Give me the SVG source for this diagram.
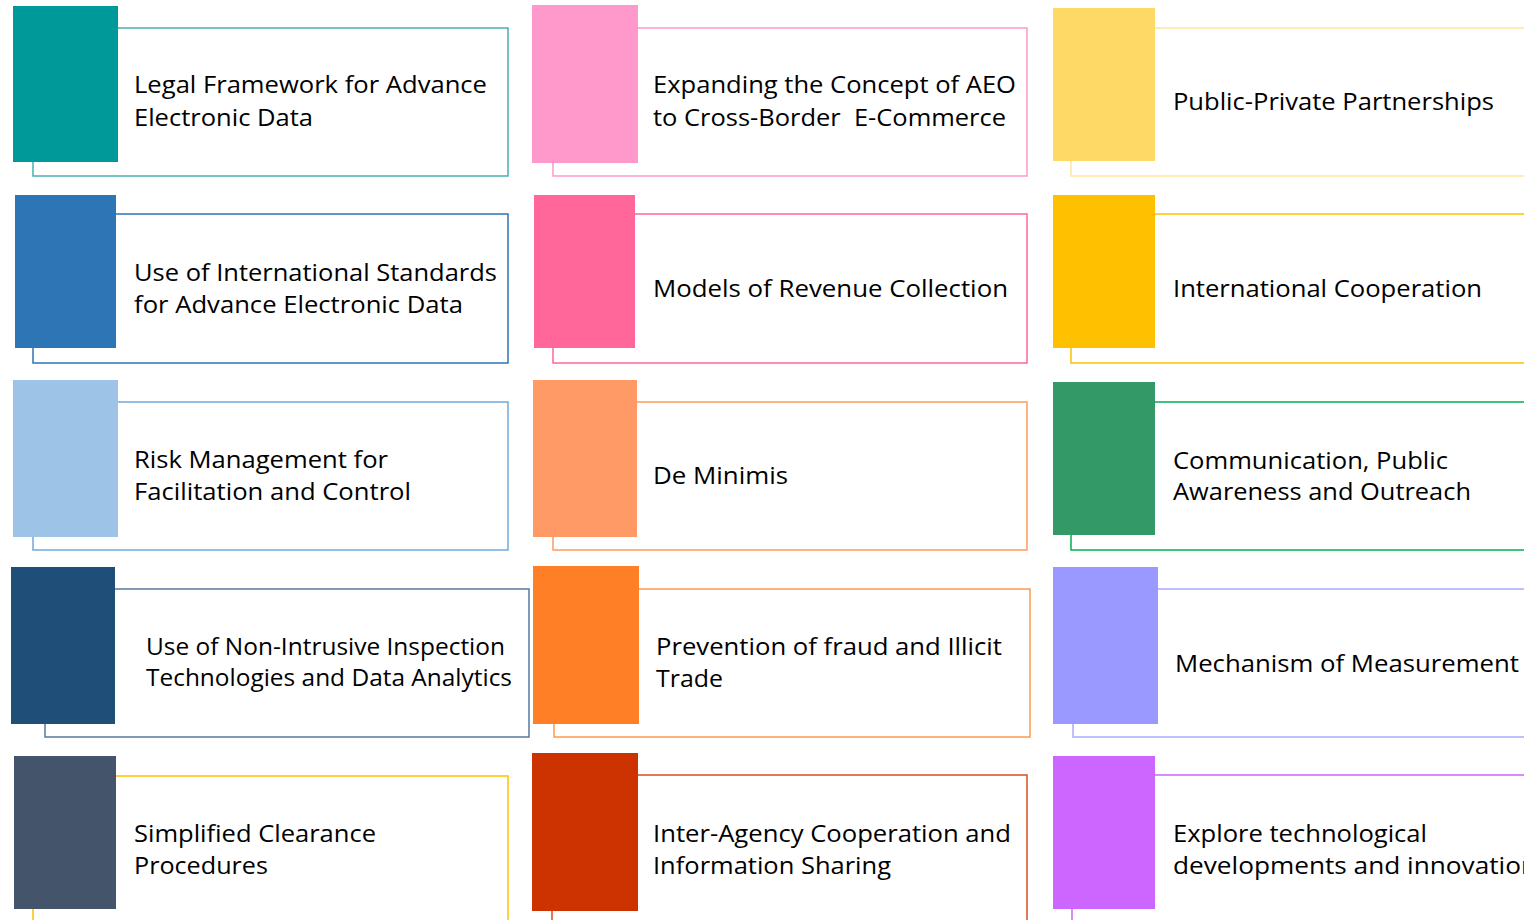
<svg xmlns="http://www.w3.org/2000/svg" width="1524" height="920" viewBox="0 0 1524 920">
<style>
.o{fill:#ffffff;stroke-width:1.5}
.t{font-family:"Open Sans","Noto Sans","Liberation Sans",sans-serif;font-size:24px;fill:#000000}
</style>
<rect x="0" y="0" width="1524" height="920" fill="#ffffff"/>
<g id="connectors"></g>

<g id="n1">
<rect class="o" x="33" y="28" width="475" height="148" stroke="#45b3b3"/>
<rect x="13" y="6" width="105" height="156" fill="#009999"/>
<text class="t" x="134" y="93" textLength="353" lengthAdjust="spacingAndGlyphs">Legal Framework for Advance</text>
<text class="t" x="134" y="126" textLength="179" lengthAdjust="spacingAndGlyphs">Electronic Data</text>
</g>
<g id="n2">
<rect class="o" x="33" y="214" width="475" height="149" stroke="#2e75b6"/>
<rect x="15" y="195" width="101" height="153" fill="#2e75b6"/>
<text class="t" x="134" y="281" textLength="363" lengthAdjust="spacingAndGlyphs">Use of International Standards</text>
<text class="t" x="134" y="313" textLength="329" lengthAdjust="spacingAndGlyphs">for Advance Electronic Data</text>
</g>
<g id="n3">
<rect class="o" x="33" y="402" width="475" height="148" stroke="#6fa8dc"/>
<rect x="13" y="380" width="105" height="157" fill="#9dc3e6"/>
<text class="t" x="134" y="468" textLength="254" lengthAdjust="spacingAndGlyphs">Risk Management for</text>
<text class="t" x="134" y="500" textLength="277" lengthAdjust="spacingAndGlyphs">Facilitation and Control</text>
</g>
<g id="n4">
<rect class="o" x="45" y="589" width="484" height="148" stroke="#55799c"/>
<rect x="11" y="567" width="104" height="157" fill="#1f4e79"/>
<text class="t" x="146" y="655" textLength="359" lengthAdjust="spacingAndGlyphs">Use of Non-Intrusive Inspection</text>
<text class="t" x="146" y="686" textLength="366" lengthAdjust="spacingAndGlyphs">Technologies and Data Analytics</text>
</g>
<g id="n5">
<rect class="o" x="33" y="776" width="475" height="170" stroke="#ffc000"/>
<rect x="14" y="756" width="102" height="153" fill="#44546a"/>
<text class="t" x="134" y="842" textLength="242" lengthAdjust="spacingAndGlyphs">Simplified Clearance</text>
<text class="t" x="134" y="874" textLength="134" lengthAdjust="spacingAndGlyphs">Procedures</text>
</g>

<g id="n6">
<rect class="o" x="553" y="28" width="474" height="148" stroke="#ff99cc"/>
<rect x="532" y="5" width="106" height="158" fill="#ff99cc"/>
<text class="t" x="653" y="93" textLength="363" lengthAdjust="spacingAndGlyphs">Expanding the Concept of AEO</text>
<text class="t" x="653" y="126" textLength="353" lengthAdjust="spacingAndGlyphs" xml:space="preserve">to Cross-Border  E-Commerce</text>
</g>
<g id="n7">
<rect class="o" x="553" y="214" width="474" height="149" stroke="#ff6699"/>
<rect x="534" y="195" width="101" height="153" fill="#ff6699"/>
<text class="t" x="653" y="297" textLength="355" lengthAdjust="spacingAndGlyphs">Models of Revenue Collection</text>
</g>
<g id="n8">
<rect class="o" x="553" y="402" width="474" height="148" stroke="#ff9a5c"/>
<rect x="533" y="380" width="104" height="157" fill="#ff9966"/>
<text class="t" x="653" y="484" textLength="135" lengthAdjust="spacingAndGlyphs">De Minimis</text>
</g>
<g id="n9">
<rect class="o" x="554" y="589" width="476" height="148" stroke="#ff9a4d"/>
<rect x="533" y="566" width="106" height="158" fill="#ff7f27"/>
<text class="t" x="656" y="655" textLength="346" lengthAdjust="spacingAndGlyphs">Prevention of fraud and Illicit</text>
<text class="t" x="656" y="687" textLength="67" lengthAdjust="spacingAndGlyphs">Trade</text>
</g>
<g id="n10">
<rect class="o" x="552" y="775" width="475" height="170" stroke="#d4501f"/>
<rect x="532" y="753" width="106" height="158" fill="#cc3300"/>
<text class="t" x="653" y="842" textLength="358" lengthAdjust="spacingAndGlyphs">Inter-Agency Cooperation and</text>
<text class="t" x="653" y="874" textLength="238" lengthAdjust="spacingAndGlyphs">Information Sharing</text>
</g>

<g id="n11">
<rect class="o" x="1071" y="28" width="480" height="148" stroke="#ffe699"/>
<rect x="1053" y="8" width="102" height="153" fill="#ffd966"/>
<text class="t" x="1173" y="110" textLength="321" lengthAdjust="spacingAndGlyphs">Public-Private Partnerships</text>
</g>
<g id="n12">
<rect class="o" x="1071" y="214" width="480" height="149" stroke="#ffc000"/>
<rect x="1053" y="195" width="102" height="153" fill="#ffc000"/>
<text class="t" x="1173" y="297" textLength="309" lengthAdjust="spacingAndGlyphs">International Cooperation</text>
</g>
<g id="n13">
<rect class="o" x="1071" y="402" width="480" height="148" stroke="#00b050"/>
<rect x="1053" y="382" width="102" height="153" fill="#339966"/>
<text class="t" x="1173" y="469" textLength="275" lengthAdjust="spacingAndGlyphs">Communication, Public</text>
<text class="t" x="1173" y="500" textLength="298" lengthAdjust="spacingAndGlyphs">Awareness and Outreach</text>
</g>
<g id="n14">
<rect class="o" x="1073" y="589" width="480" height="148" stroke="#aaaaff"/>
<rect x="1053" y="567" width="105" height="157" fill="#9999ff"/>
<text class="t" x="1175" y="672" textLength="344" lengthAdjust="spacingAndGlyphs">Mechanism of Measurement</text>
</g>
<g id="n15">
<rect class="o" x="1072" y="775" width="480" height="170" stroke="#cc66ff"/>
<rect x="1053" y="756" width="102" height="153" fill="#cc66ff"/>
<text class="t" x="1173" y="842" textLength="254" lengthAdjust="spacingAndGlyphs">Explore technological</text>
<text class="t" x="1173" y="874" textLength="364" lengthAdjust="spacingAndGlyphs">developments and innovation</text>
</g>
</svg>
